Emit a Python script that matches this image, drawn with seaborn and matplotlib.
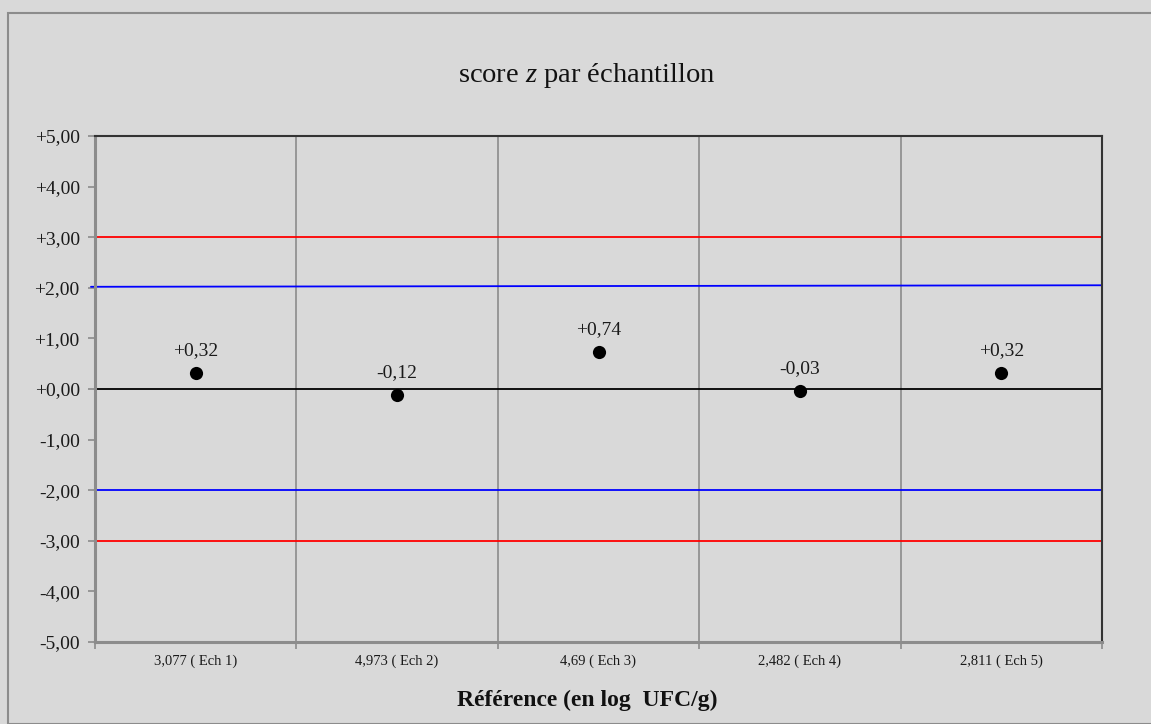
import matplotlib
matplotlib.use("Agg")
import matplotlib.pyplot as plt
import matplotlib.patches as mpatches
import seaborn as sns
import pandas as pd
import numpy as np

# ---- data ----
categories = ["3,077 ( Ech 1)", "4,973 ( Ech 2)", "4,69 ( Ech 3)", "2,482 ( Ech 4)", "2,811 ( Ech 5)"]
z_scores = [0.32, -0.12, 0.74, -0.03, 0.32]
z_labels = ["+0,32", "-0,12", "+0,74", "-0,03", "+0,32"]
yticks = [5, 4, 3, 2, 1, 0, -1, -2, -3, -4, -5]
ytick_labels = ["+5,00", "+4,00", "+3,00", "+2,00", "+1,00", "+0,00", "-1,00", "-2,00", "-3,00", "-4,00", "-5,00"]
red_limits = [3.0, -3.0]
blue_upper_ends = [2.02, 2.05]
blue_lower = -2.0

sns.set_theme(style="white")
plt.rcParams['font.family'] = ['Liberation Serif', 'DejaVu Serif']
plt.rcParams['mathtext.fontset'] = 'custom'
plt.rcParams['mathtext.rm'] = 'Liberation Serif'
plt.rcParams['mathtext.it'] = 'Liberation Serif:italic'

BG = "#D9D9D9"
W, H = 1151, 724
fig = plt.figure(figsize=(W / 100, H / 100), dpi=100, facecolor=BG)

# chart border
fig.patches.append(mpatches.Rectangle((8 / W, 0), 1.2, (H - 13) / H, transform=fig.transFigure,
                                      fill=False, edgecolor="#8C8C8C", linewidth=1.5, zorder=0))

left, right, top, bottom = 95, 1102, 136, 642
ax = fig.add_axes([left / W, (H - bottom) / H, (right - left) / W, (bottom - top) / H])
ax.set_facecolor(BG)

df = pd.DataFrame({"cat": categories, "pos": np.arange(len(categories)), "z": z_scores})

ax.set_xlim(-0.5, len(categories) - 0.5)
ax.set_ylim(-5, 5)

# vertical grid at category boundaries
for b in np.arange(0.5, len(categories) - 0.5, 1):
    ax.axvline(b, color="#8C8C8C", linewidth=1.2, zorder=1)

# reference lines
for r in red_limits:
    ax.axhline(r, color="#FF0000", linewidth=1.3, zorder=2)
ax.plot([-0.52, len(categories) - 0.5], blue_upper_ends, color="#0000FF", linewidth=1.3, zorder=2, clip_on=False)
ax.axhline(blue_lower, color="#0000FF", linewidth=1.3, zorder=2)
ax.axhline(0, color="#000000", linewidth=1.3, zorder=2)

sns.scatterplot(data=df, x="pos", y="z", ax=ax, color="black", s=90, edgecolor="black",
                linewidth=0, zorder=5, legend=False)

for p, z, lab in zip(df["pos"], z_scores, z_labels):
    ax.annotate(lab, (p, z), xytext=(0, 10), textcoords="offset points", ha="center", va="bottom",
                fontsize=14, color="#1a1a1a")

# axes / ticks
ax.set_yticks(yticks)
ax.set_yticklabels(ytick_labels, fontsize=14, color="#1a1a1a")
ax.set_xticks(np.arange(-0.5, len(categories), 1))
ax.set_xticklabels([])
ax.set_xticks(np.arange(len(categories)), minor=True)
ax.set_xticklabels(categories, minor=True, fontsize=10.5, color="#1a1a1a")
ax.tick_params(axis="x", which="major", length=5, width=1.2, color="#8C8C8C", direction="out", bottom=True)
ax.tick_params(axis="x", which="minor", length=0, pad=9)
ax.tick_params(axis="y", length=5, width=1.2, color="#8C8C8C", direction="out", left=True, pad=6)

for s in ["left", "bottom"]:
    ax.spines[s].set_color("#8C8C8C")
    ax.spines[s].set_linewidth(2.2)
for s in ["top", "right"]:
    ax.spines[s].set_color("#333333")
    ax.spines[s].set_linewidth(1.5)

ax.set_xlabel("")
ax.set_ylabel("")

fig.text(587 / W, (H - 75) / H, "score $\\mathit{z}$ par échantillon", ha="center", va="center", fontsize=20.5,
         color="#111111")
fig.text(587 / W, (H - 700) / H, "Référence (en log  UFC/g)", ha="center", va="center", fontsize=17,
         fontweight="bold", color="#111111")

fig.savefig("out.png", dpi=100, facecolor=BG)
